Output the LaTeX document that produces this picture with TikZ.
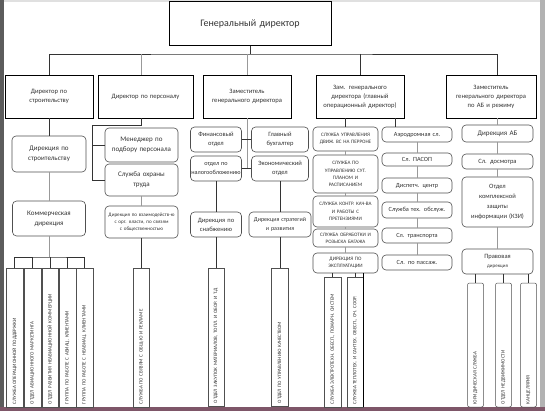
\documentclass[tikz,border=0pt]{standalone}
\usepackage{fontspec}
\setmainfont{Carlito}
\usepackage{tikz}
\usetikzlibrary{positioning}
\definecolor{txt}{HTML}{333333}
\definecolor{rim}{HTML}{505050}
\definecolor{frameL}{HTML}{5C5C5C}
\definecolor{frameB}{HTML}{7E5668}

\begin{document}
\begin{tikzpicture}[x=1pt, y=-1pt,
  chief/.style={draw=black, line width=0.9pt, text=txt, align=center, inner xsep=0pt, font=\fontsize{6.6}{9}\selectfont},
  unit/.style={draw=rim, line width=0.6pt, rounded corners=4pt, text=txt, align=center, inner xsep=0pt, font=\fontsize{7}{10}\selectfont},
  tinyunit/.style={unit, font=\fontsize{5.1}{7.2}\selectfont},
  vbox/.style={draw=rim, line width=0.5pt, rotate=90, text=txt, align=left, inner xsep=3pt, inner ysep=0pt, font=\fontsize{5}{6}\selectfont},
  sz/.style 2 args={text width=#1pt, minimum height=#2pt},
  link/.style={draw=black!80, line width=0.7pt},
  faint/.style={draw=black!40, line width=0.6pt}]
  \useasboundingbox (0,0) rectangle (545,411);
  \fill[white] (0,0) rectangle (545,411);
  \fill[black!12] (0,0) rectangle (545,2.5);
  \fill[frameL] (0,0) rectangle (3.5,411);
  \fill[black!30] (540,0) rectangle (545,411);
  \fill[frameB] (0,407) rectangle (545,411);

  \node[chief, sz={162}{44}, font=\fontsize{10}{12}\selectfont] (gd) at (250,23.5) {Генеральный директор};
  \node[chief, sz={88}{43}] (d1) at (49,96.5) {Директор по\\строительству};
  \node[chief, sz={95}{43}] (d2) at (145.5,96.5) {Директор по персоналу};
  \node[chief, sz={88}{43}] (d3) at (247,96.5) {Заместитель\\генерального директора};
  \node[chief, sz={88}{43}] (d4) at (360,96.5) {Зам. генерального\\директора (главный\\операционный директор)};
  \node[chief, sz={90}{43}] (d5) at (491,96.5) {Заместитель\\генерального директора\\по АБ и режиму};

  \node[unit, sz={74}{36}] (ds) at (49,154) {Дирекция по\\строительству};
  \node[unit, sz={73}{35}] (kd) at (49,218.5) {Коммерческая\\дирекция};
  \coordinate (b1) at (49,257);
  \foreach \n/\x/\t in {v1/14.5/{СЛУЖБА ОПЕРАЦИОННОЙ ПОДДЕРЖКИ}, v2/32.5/{ОТДЕЛ АВИАЦИОННОГО МАРКЕТИНГА}, v3/50/{ОТДЕЛ РАЗВИТИЯ НЕАВИАЦИОННОЙ КОММЕРЦИИ}, v4/67.5/{ГРУППА ПО РАБОТЕ С АВИАЦ. КЛИЕНТАМИ}, v5/84.5/{ГРУППА ПО РАБОТЕ С НЕАВИАЦ. КЛИЕНТАМИ}}
    \node[vbox, sz={133}{16.5}] (\n) at (\x,337.5) {\t};

  \coordinate (k2) at (92,125);
  \node[unit, sz={73}{34}] (mp) at (141.5,145) {Менеджер по\\подбору персонала};
  \node[unit, sz={73}{32}] (sot) at (141.5,180) {Служба охраны\\труда};
  \node[tinyunit, sz={73}{32}] (dv) at (141.5,222) {Дирекция по взаимодейств-ю\\с орг. власти, по связям\\с общественностью};
  \node[vbox, sz={133}{16}] (sso) at (141.5,337.5) {СЛУЖБА ПО СВЯЗЯМ С ОБЩ-Ю И РЕКЛАМЕ};

  \node[unit, sz={51}{25}, font=\fontsize{6.5}{9}\selectfont] (fo) at (216,139.5) {Финансовый\\отдел};
  \node[unit, sz={57}{25}, font=\fontsize{6.5}{9}\selectfont] (gb) at (280,139.5) {Главный\\бухгалтер};
  \node[unit, sz={51}{25}, font=\fontsize{6.2}{9}\selectfont] (on) at (216,168.5) {отдел по\\налогообложению};
  \node[unit, sz={57}{25}, font=\fontsize{6.5}{9}\selectfont] (eo) at (280,168.5) {Экономический\\отдел};
  \node[unit, sz={51}{25}, font=\fontsize{6.5}{9}\selectfont] (dsn) at (216,224.5) {Дирекция по\\снабжению};
  \node[unit, sz={62}{25}, font=\fontsize{6}{9}\selectfont] (dsr) at (280,224.5) {Дирекция стратегий\\и развития};
  \node[vbox, sz={132}{16}] (ozm) at (216,337) {ОТДЕЛ ЗАКУПОК МАТЕРИАЛОВ, ТОПЛ. И ОБОР. И Т.Д};
  \node[vbox, sz={132}{17}] (ouk) at (280,337) {ОТДЕЛ ПО УПРАВЛЕНИЮ КАЧЕСТВОМ};

  \node[tinyunit, sz={65}{24}] (sud) at (345.5,139) {СЛУЖБА УПРАВЛЕНИЯ\\ДВИЖ. ВС НА ПЕРРОНЕ};
  \node[tinyunit, sz={65}{38}] (sup) at (345.5,174) {СЛУЖБА ПО\\УПРАВЛЕНИЮ СУТ.\\ПЛАНОМ И\\РАСПИСАНИЕМ};
  \node[tinyunit, sz={65}{31}] (skk) at (345.5,211.5) {СЛУЖБА КОНТР. КАЧ-ВА\\И РАБОТЫ С\\ПРЕТЕНЗИЯМИ};
  \node[tinyunit, sz={65}{18}] (sob) at (345.5,238) {СЛУЖБА ОБРАБОТКИ И\\РОЗЫСКА БАГАЖА};
  \node[tinyunit, sz={65}{20}] (dex) at (345.5,263) {ДИРЕКЦИЯ ПО\\ЭКСПЛУАТАЦИИ};
  \node[vbox, sz={124}{17}] (ea) at (332.5,342) {СЛУЖБА ЭЛЕКТРОТЕХН. ОБЕСП., ПОЖАРН. СИСТЕМ};
  \node[vbox, sz={124}{16}] (eb) at (355,342) {СЛУЖБА ТЕПЛОТЕХ. И САНТЕХ. ОБЕСП., ОЧ. СООР.};

  \coordinate (k4) at (395,120);
  \foreach \n/\y/\h/\t in {asl/134.5/15/{Аэродромная сл.}, pas/159.5/13/{Сл. ПАСОП}, dc/185.5/15/{Диспетч. центр}, sto/210/16/{Служба тех. обслуж.}, str/235.5/15/{Сл. транспорта}, spp/262.5/15/{Сл. по пассаж.}}
    \node[unit, sz={70}{\h}, font=\fontsize{6.3}{8}\selectfont] (\n) at (417,\y) {\t};

  \node[unit, sz={71}{17}] (dab) at (497.5,133.5) {Дирекция АБ};
  \node[unit, sz={71}{15}, font=\fontsize{6.5}{8}\selectfont] (sdo) at (497.5,161.5) {Сл. досмотра};
  \node[unit, sz={71}{50}, font=\fontsize{6.5}{10}\selectfont] (kzi) at (497.5,202) {Отдел\\комплексной\\защиты\\информации (КЗИ)};
  \node[unit, sz={71}{25}, font=\fontsize{6.5}{9}\selectfont] (pd) at (497.5,261.5) {Правовая\\{\fontsize{5}{6}\selectfont дирекция}};
  \foreach \n/\x/\t in {ys/475.5/{ЮРИДИЧЕСКАЯ СЛУЖБА}, onv/503.5/{ОТДЕЛ НЕДВИЖИМОСТИ}, nal/528.5/{КАНЦЕЛЯРИЯ}}
    \node[vbox, rounded corners=2pt, sz={118}{16}] (\n) at (\x,345) {\t};

  \coordinate (bus) at (250,54);
  \draw[link] (gd) -- (bus);
  \draw[link] (d1.north) |- (bus) -| (d5.north -| dab.north);
  \draw[faint] (mp.north |- bus) -- (mp.north |- d2.north);
  \draw[faint] (d3.north |- bus) -- (d3.north);
  \draw[link] (d4.north |- bus) -- (d4.north);

  \draw[link] (d1) -- (ds);
  \draw[faint] (ds) -- (kd);
  \draw[faint] (kd) -- (b1);
  \draw[link] (v1.east) |- (b1) -| (v5.east);
  \foreach \n in {v2,v3,v4} \draw[link] (\n.east) -- (\n.east |- b1);

  \draw[link] (d2.south -| mp.north) |- (k2) |- (sot.west);
  \draw[link] (k2 |- mp.west) -- (mp.west);
  \draw[faint] (sot) -- (dv);
  \draw[link] (dv) -- (sso);

  \draw[faint] (d3) -- (d3 |- on.east);
  \draw[link] (fo) -- (gb);
  \draw[link] (on) -- (eo);
  \draw[link] (on) -- (dsn);
  \draw[link] (dsn) -- (ozm);
  \draw[link] (eo) -- (dsr);
  \draw[link] (dsr) -- (ouk);

  \draw[link] (d4.south -| sud.north) -- (sud.north);
  \foreach \a/\b in {sud/sup, sup/skk, skk/sob, sob/dex} \draw[faint] (\a) -- (\b);
  \draw[link] (dex.south -| ea.east) -- (ea.east);
  \draw[link] (dex.south -| eb.east) -- (eb.east);
  \draw[draw=black, line width=1pt] (dex.south -| eb.south) -- (eb.south west);

  \draw[link] (d4.south -| k4) -- (asl.north -| k4);
  \foreach \a/\b in {asl/pas, pas/dc, dc/sto, sto/str, str/spp} \draw[faint] (\a) -- (\b);

  \draw[faint] (d5.south -| dab.north) -- (dab.north);
  \foreach \a/\b in {dab/sdo, sdo/kzi, kzi/pd} \draw[faint] (\a) -- (\b);
  \foreach \n in {ys,onv,nal} \draw[link] (pd.south -| \n.east) -- (\n.east);
\end{tikzpicture}
\end{document}
